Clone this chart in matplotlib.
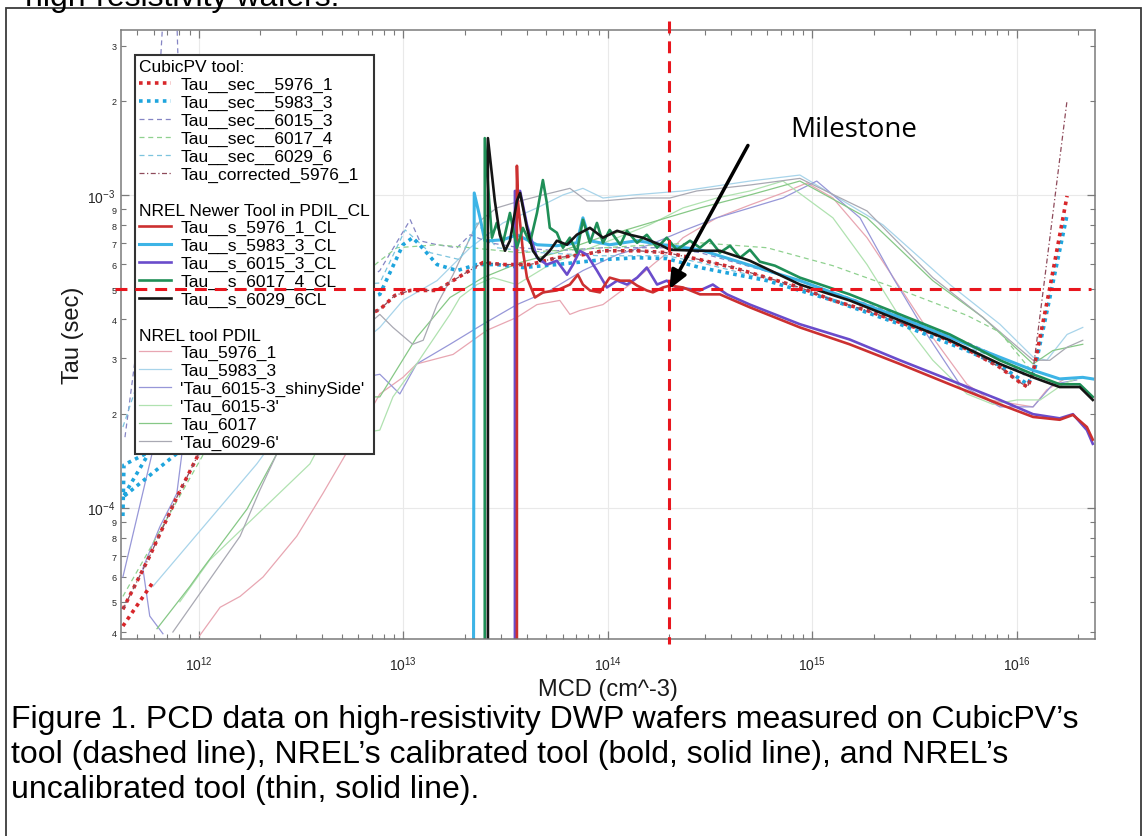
import numpy as np
import matplotlib
matplotlib.use("Agg")
import matplotlib.pyplot as plt
from matplotlib.lines import Line2D
from matplotlib.patches import Rectangle
from matplotlib.ticker import LogLocator, FuncFormatter, NullFormatter

plt.rcParams['font.family'] = ['Liberation Sans', 'DejaVu Sans']

# ---- CubicPV tool (dashed / dotted) ----
sec5976_mcd = [4.25e11, 5.75e11, 7.8e11, 1.01e12, 1.99e12, 3.12e12, 7.67e12, 9.08e12, 1.08e13, 1.46e13,
               1.95e13, 2.45e13, 3.07e13, 4.16e13, 5.63e13, 7.55e13, 9.46e13, 1.39e14, 1.94e14, 2.82e14,
               4.09e14, 6.0e14, 8.69e14, 1.26e15, 1.85e15, 2.68e15, 3.88e15, 5.70e15, 8.26e15, 1.03e16,
               1.13e16, 1.20e16, 1.45e16, 1.76e16]
sec5976_tau = [4.73e-5, 7.0e-5, 1.08e-4, 1.51e-4, 2.61e-4, 3.38e-4, 4.30e-4, 4.77e-4, 4.95e-4, 4.95e-4,
               5.56e-4, 6.08e-4, 5.99e-4, 5.99e-4, 6.30e-4, 6.44e-4, 6.63e-4, 6.63e-4, 6.54e-4, 6.21e-4,
               5.86e-4, 5.44e-4, 5.06e-4, 4.60e-4, 4.27e-4, 3.91e-4, 3.61e-4, 3.21e-4, 2.81e-4, 2.52e-4,
               2.43e-4, 2.71e-4, 5.06e-4, 9.93e-4]
sec5976_low_mcd = [4.25e11, 5.96e11]
sec5976_low_tau = [4.18e-5, 5.77e-5]

corr5976_mcd = [4.25e11, 5.75e11, 7.8e11, 1.01e12, 1.99e12, 3.12e12, 7.67e12, 9.08e12, 1.08e13, 1.46e13,
                1.95e13, 2.45e13, 3.07e13, 4.16e13, 5.63e13, 7.55e13, 9.46e13, 1.39e14, 1.94e14, 2.82e14,
                4.09e14, 6.0e14, 8.69e14, 1.26e15, 1.85e15, 2.68e15, 3.88e15, 5.70e15, 8.26e15, 1.03e16,
                1.13e16, 1.20e16, 1.45e16, 1.76e16]
corr5976_tau = [4.73e-5, 7.0e-5, 1.08e-4, 1.51e-4, 2.61e-4, 3.38e-4, 4.30e-4, 4.77e-4, 4.95e-4, 4.95e-4,
                5.56e-4, 6.08e-4, 5.99e-4, 5.99e-4, 6.30e-4, 6.44e-4, 6.63e-4, 6.63e-4, 6.54e-4, 6.21e-4,
                5.86e-4, 5.44e-4, 5.06e-4, 4.60e-4, 4.27e-4, 3.91e-4, 3.61e-4, 3.21e-4, 2.81e-4, 2.52e-4,
                2.43e-4, 2.75e-4, 7.3e-4, 2.01e-3]

sec5983_mcd = [4.25e11, 4.30e11, 5.75e11, 4.25e11, 7.80e11, 2.49e12, 7.67e12, 9.95e12, 1.11e13, 1.20e13,
               1.46e13, 1.83e13, 2.29e13, 2.86e13, 3.84e13, 5.63e13, 9.46e13, 1.39e14, 1.94e14, 2.82e14,
               6.0e14, 1.26e15, 2.68e15, 5.70e15, 8.26e15, 1.13e16, 1.22e16, 1.45e16, 1.76e16]
sec5983_tau = [9.4e-5, 1.37e-4, 1.51e-4, 1.08e-4, 1.49e-4, 3.77e-4, 4.81e-4, 6.93e-4, 7.30e-4, 6.93e-4,
               5.99e-4, 5.73e-4, 5.99e-4, 5.99e-4, 5.86e-4, 5.99e-4, 6.21e-4, 6.30e-4, 6.26e-4, 5.86e-4,
               5.32e-4, 4.60e-4, 3.86e-4, 3.18e-4, 2.85e-4, 2.48e-4, 2.75e-4, 4.70e-4, 8.64e-4]

sec6015_mcd = [4.35e11, 5.75e11, 6.67e11, 7.80e11, 8.55e11, 3.12e12, 7.67e12, 1.08e13, 1.20e13, 1.46e13,
               1.83e13, 2.12e13, 2.65e13, 3.72e13, 5.63e13, 9.46e13, 1.94e14, 2.82e14, 8.69e14, 2.68e15,
               5.70e15, 8.26e15, 1.09e16]
sec6015_tau = [1.68e-4, 6.78e-4, 3.66e-3, 3.66e-3, 4.70e-4, 3.77e-4, 5.73e-4, 8.33e-4, 7.14e-4, 6.93e-4,
               6.78e-4, 7.46e-4, 7.03e-4, 6.78e-4, 6.63e-4, 6.78e-4, 6.78e-4, 6.54e-4, 5.32e-4, 4.12e-4,
               3.38e-4, 3.03e-4, 2.65e-4]

sec6017_mcd = [4.25e11, 1.07e12, 3.12e12, 7.67e12, 9.29e12, 1.46e13, 2.12e13, 3.72e13, 6.52e13, 1.39e14,
               2.82e14, 6.0e14, 1.26e15, 2.68e15, 5.70e15, 8.26e15, 1.16e16]
sec6017_tau = [5.2e-5, 1.51e-4, 3.77e-4, 6.16e-4, 6.78e-4, 6.93e-4, 6.78e-4, 6.54e-4, 6.68e-4, 6.88e-4,
               7.03e-4, 6.78e-4, 5.94e-4, 4.98e-4, 4.12e-4, 3.64e-4, 2.77e-4]

sec6029_mcd = [4.25e11, 5.5e11, 9.04e11, 7.67e12, 1.02e13, 1.35e13, 1.89e13, 2.29e13, 2.86e13, 4.65e13,
               9.14e13, 1.94e14, 2.82e14, 8.69e14, 2.68e15, 5.70e15, 8.26e15, 1.09e16]
sec6029_tau = [1.81e-4, 3.0e-4, 4.70e-4, 5.23e-4, 7.73e-4, 6.54e-4, 6.21e-4, 8.14e-4, 6.78e-4, 6.54e-4,
               6.39e-4, 6.39e-4, 6.08e-4, 5.06e-4, 3.91e-4, 3.26e-4, 2.98e-4, 2.71e-4]

# ---- NREL newer tool, calibrated (bold solid) ----
cl5976_mcd = [3.59e13, 3.59e13, 3.63e13, 3.84e13, 4.02e13, 4.40e13, 4.81e13, 5.63e13, 6.52e13, 7.13e13,
              7.55e13, 8.17e13, 9.14e13, 1.02e14, 1.15e14, 1.28e14, 1.39e14, 1.55e14, 1.66e14, 1.86e14,
              2.01e14, 2.33e14, 2.82e14, 3.53e14, 4.95e14, 8.69e14, 1.52e15, 2.68e15, 4.70e15, 8.26e15,
              1.20e16, 1.62e16, 1.88e16, 2.20e16, 2.35e16]
cl5976_tau = [2.0e-5, 1.24e-3, 9.57e-4, 6.63e-4, 5.44e-4, 4.70e-4, 4.88e-4, 4.95e-4, 5.17e-4, 5.56e-4,
              5.17e-4, 4.95e-4, 4.88e-4, 5.44e-4, 5.32e-4, 5.32e-4, 5.13e-4, 4.95e-4, 4.88e-4, 5.06e-4,
              5.13e-4, 5.06e-4, 4.81e-4, 4.81e-4, 4.37e-4, 3.77e-4, 3.33e-4, 2.88e-4, 2.48e-4, 2.14e-4,
              1.95e-4, 1.91e-4, 1.98e-4, 1.81e-4, 1.65e-4]

cl5983_mcd = [2.20e13, 2.22e13, 2.37e13, 2.50e13, 2.65e13, 3.07e13, 3.59e13, 4.50e13, 5.63e13, 7.05e13,
              7.55e13, 8.17e13, 1.02e14, 1.39e14, 1.86e14, 2.82e14, 8.69e14, 2.68e15, 5.70e15, 1.20e16,
              1.62e16, 2.10e16, 2.35e16]
cl5983_tau = [2.0e-5, 1.015e-3, 8.45e-4, 7.14e-4, 7.14e-4, 7.19e-4, 7.46e-4, 6.93e-4, 6.88e-4, 7.03e-4,
              8.45e-4, 7.14e-4, 6.93e-4, 7.14e-4, 6.93e-4, 6.68e-4, 5.32e-4, 4.06e-4, 3.33e-4, 2.75e-4,
              2.58e-4, 2.61e-4, 2.58e-4]

cl6015_mcd = [3.51e13, 3.51e13, 3.72e13, 4.02e13, 4.50e13, 5.03e13, 5.63e13, 6.31e13, 6.75e13, 7.29e13,
              7.89e13, 8.84e13, 9.89e13, 1.11e14, 1.24e14, 1.39e14, 1.55e14, 1.74e14, 1.94e14, 2.17e14,
              2.82e14, 3.26e14, 3.82e14, 4.95e14, 8.69e14, 1.52e15, 2.68e15, 4.70e15, 8.26e15, 1.20e16,
              1.62e16, 1.88e16, 2.20e16, 2.35e16]
cl6015_tau = [2.0e-5, 1.03e-3, 1.03e-3, 8.03e-4, 6.30e-4, 5.99e-4, 6.16e-4, 5.56e-4, 5.99e-4, 6.63e-4,
              6.44e-4, 5.73e-4, 5.06e-4, 5.32e-4, 5.17e-4, 5.44e-4, 5.86e-4, 5.17e-4, 5.32e-4, 5.06e-4,
              4.95e-4, 5.17e-4, 4.81e-4, 4.46e-4, 3.86e-4, 3.45e-4, 2.96e-4, 2.56e-4, 2.21e-4, 1.99e-4,
              1.93e-4, 1.99e-4, 1.77e-4, 1.60e-4]

cl6017_mcd = [2.50e13, 2.50e13, 2.62e13, 2.71e13, 2.86e13, 3.07e13, 3.32e13, 3.59e13, 3.84e13, 4.16e13,
              4.50e13, 4.81e13, 5.03e13, 5.20e13, 5.63e13, 6.03e13, 6.52e13, 7.05e13, 7.55e13, 8.17e13,
              8.84e13, 9.46e13, 1.02e14, 1.15e14, 1.24e14, 1.39e14, 1.55e14, 1.74e14, 1.94e14, 2.17e14,
              2.52e14, 2.82e14, 3.15e14, 3.53e14, 3.96e14, 4.43e14, 4.95e14, 5.53e14, 6.56e14, 8.69e14,
              1.52e15, 2.68e15, 4.70e15, 8.26e15, 1.20e16, 1.62e16, 2.03e16, 2.35e16]
cl6017_tau = [2.0e-5, 1.52e-3, 9.78e-4, 7.30e-4, 8.14e-4, 7.03e-4, 8.76e-4, 6.78e-4, 7.85e-4, 7.03e-4,
              8.76e-4, 1.116e-3, 9.43e-4, 7.85e-4, 7.57e-4, 6.78e-4, 7.30e-4, 6.54e-4, 8.33e-4, 7.03e-4,
              8.14e-4, 7.03e-4, 7.73e-4, 6.93e-4, 7.68e-4, 7.03e-4, 7.46e-4, 6.78e-4, 7.30e-4, 6.68e-4,
              7.14e-4, 6.78e-4, 7.19e-4, 6.54e-4, 6.88e-4, 6.30e-4, 6.68e-4, 6.12e-4, 5.94e-4, 5.44e-4,
              4.81e-4, 4.15e-4, 3.58e-4, 2.96e-4, 2.67e-4, 2.48e-4, 2.48e-4, 2.26e-4]

cl6029_mcd = [2.59e13, 2.59e13, 2.80e13, 2.96e13, 3.14e13, 3.32e13, 3.59e13, 3.72e13, 4.02e13, 4.30e13,
              4.65e13, 5.20e13, 5.63e13, 6.31e13, 7.05e13, 8.17e13, 9.46e13, 1.11e14, 1.28e14, 1.48e14,
              1.80e14, 2.01e14, 2.82e14, 3.53e14, 4.95e14, 8.69e14, 1.52e15, 2.68e15, 4.70e15, 8.26e15,
              1.20e16, 1.62e16, 2.03e16, 2.35e16]
cl6029_tau = [2.0e-5, 1.52e-3, 9.57e-4, 7.46e-4, 6.63e-4, 7.14e-4, 9.57e-4, 1.015e-3, 7.85e-4, 6.63e-4,
              6.16e-4, 6.63e-4, 7.14e-4, 6.93e-4, 7.46e-4, 7.85e-4, 7.30e-4, 7.68e-4, 7.46e-4, 7.30e-4,
              6.93e-4, 6.68e-4, 6.63e-4, 6.63e-4, 6.16e-4, 5.17e-4, 4.60e-4, 3.97e-4, 3.43e-4, 2.88e-4,
              2.61e-4, 2.43e-4, 2.43e-4, 2.21e-4]

# ---- NREL tool PDIL, uncalibrated (thin solid) ----
pd5976_mcd = [1.01e12, 1.27e12, 1.59e12, 2.06e12, 3.01e12, 4.04e12, 5.47e12, 7.67e12, 9.95e12, 1.16e13,
              1.75e13, 2.56e13, 3.59e13, 4.50e13, 5.82e13, 6.52e13, 7.29e13, 9.46e13, 1.28e14, 1.66e14,
              2.01e14, 2.33e14, 3.41e14, 4.95e14, 7.18e14, 9.40e14, 1.26e15, 1.85e15, 2.68e15, 3.88e15,
              5.70e15, 7.38e15, 1.0e16, 1.20e16, 1.40e16, 1.68e16]
pd5976_tau = [3.9e-5, 4.8e-5, 5.2e-5, 6.0e-5, 8.1e-5, 1.11e-4, 1.56e-4, 2.31e-4, 2.61e-4, 2.88e-4,
              3.09e-4, 3.69e-4, 4.06e-4, 4.46e-4, 4.60e-4, 4.15e-4, 4.27e-4, 4.46e-4, 5.17e-4, 5.99e-4,
              6.63e-4, 7.30e-4, 8.45e-4, 9.29e-4, 1.015e-3, 1.092e-3, 9.78e-4, 7.30e-4, 5.06e-4, 3.50e-4,
              2.48e-4, 2.21e-4, 2.14e-4, 2.10e-4, 2.38e-4, 2.56e-4]

pd5983_mcd = [5.96e11, 1.92e12, 3.91e12, 7.67e12, 9.95e12, 1.46e13, 2.12e13, 3.07e13, 4.50e13, 6.03e13,
              7.55e13, 9.46e13, 1.32e14, 2.33e14, 4.95e14, 8.69e14, 2.21e15, 4.70e15, 8.26e15, 1.20e16,
              1.40e16, 1.76e16, 2.10e16]
pd5983_tau = [5.6e-5, 1.38e-4, 2.61e-4, 3.77e-4, 4.60e-4, 5.32e-4, 6.78e-4, 8.14e-4, 9.09e-4, 1.0e-3,
              1.05e-3, 9.78e-4, 1.0e-3, 1.03e-3, 1.108e-3, 1.158e-3, 8.03e-4, 5.17e-4, 3.86e-4, 3.03e-4,
              2.96e-4, 3.58e-4, 3.77e-4]

shiny_mcd = [6.67e11, 5.75e11, 5.32e11, 6.45e11, 7.80e11, 8.26e11, 1.99e12, 7.67e12, 9.61e12, 1.16e13,
             1.69e13, 2.45e13, 3.59e13, 5.20e13, 7.55e13, 1.11e14, 1.60e14, 2.33e14, 3.41e14, 4.95e14,
             7.18e14, 1.05e15, 1.71e15, 2.48e15, 3.63e15, 5.26e15, 8.26e15, 1.20e16, 1.50e16, 1.96e16]
shiny_tau = [3.95e-5, 4.5e-5, 6.4e-5, 8.7e-5, 1.11e-4, 1.49e-4, 2.26e-4, 2.67e-4, 2.31e-4, 2.88e-4,
             3.33e-4, 3.86e-4, 4.46e-4, 4.95e-4, 5.73e-4, 6.44e-4, 6.93e-4, 7.68e-4, 8.45e-4, 9.09e-4,
             9.78e-4, 1.108e-3, 8.45e-4, 5.44e-4, 3.58e-4, 2.48e-4, 2.10e-4, 2.10e-4, 2.48e-4, 2.56e-4]
shiny_branch_mcd = [4.25e11, 5.96e11, 6.8e11]
shiny_branch_tau = [6.0e-5, 1.53e-4, 1.95e-4]

pd6015_mcd = [8.07e11, 1.13e12, 3.49e12, 4.04e12, 7.67e12, 8.89e12, 1.16e13, 1.69e13, 1.89e13, 2.29e13,
              2.74e13, 3.59e13, 5.20e13, 7.55e13, 1.11e14, 1.60e14, 2.33e14, 3.41e14, 4.95e14, 7.18e14,
              1.26e15, 1.85e15, 2.68e15, 3.88e15, 5.70e15, 7.64e15, 1.0e16, 1.30e16, 1.68e16, 2.03e16]
pd6015_tau = [5.0e-5, 6.8e-5, 1.38e-4, 1.65e-4, 1.77e-4, 2.26e-4, 2.88e-4, 4.15e-4, 4.70e-4, 5.17e-4,
              5.44e-4, 5.17e-4, 5.99e-4, 6.63e-4, 7.30e-4, 8.03e-4, 9.09e-4, 9.78e-4, 1.03e-3, 1.108e-3,
              8.45e-4, 5.99e-4, 4.06e-4, 2.96e-4, 2.31e-4, 2.14e-4, 2.21e-4, 2.21e-4, 2.48e-4, 2.61e-4]

pd6017_mcd = [6.24e11, 9.04e11, 1.01e12, 1.72e12, 2.41e12, 4.37e12, 7.67e12, 1.16e13, 1.69e13, 2.45e13,
              3.72e13, 5.63e13, 9.14e13, 1.60e14, 2.82e14, 4.95e14, 8.69e14, 1.85e15, 3.88e15, 6.82e15,
              1.20e16, 1.50e16, 2.10e16]
pd6017_tau = [4.1e-5, 5.6e-5, 6.2e-5, 9.9e-5, 1.49e-4, 2.26e-4, 2.26e-4, 3.50e-4, 4.70e-4, 5.44e-4,
              6.08e-4, 6.54e-4, 7.30e-4, 8.14e-4, 9.09e-4, 1.0e-3, 1.108e-3, 8.45e-4, 5.32e-4, 4.06e-4,
              2.88e-4, 3.18e-4, 3.33e-4]

pd6029_mcd = [7.46e11, 1.59e12, 1.99e12, 2.41e12, 4.37e12, 7.67e12, 8.89e12, 1.11e13, 1.25e13, 1.46e13,
              1.75e13, 2.12e13, 2.37e13, 2.86e13, 3.72e13, 4.81e13, 6.52e13, 7.89e13, 9.46e13, 1.39e14,
              2.01e14, 2.72e14, 4.95e14, 8.69e14, 1.85e15, 3.88e15, 6.82e15, 1.20e16, 1.45e16, 1.76e16,
              2.10e16]
pd6029_tau = [4.0e-5, 8.1e-5, 1.14e-4, 1.49e-4, 3.03e-4, 4.15e-4, 3.77e-4, 3.33e-4, 3.43e-4, 4.46e-4,
              5.56e-4, 7.30e-4, 8.27e-4, 9.09e-4, 9.57e-4, 1.0e-3, 1.05e-3, 9.57e-4, 9.57e-4, 9.78e-4,
              9.78e-4, 1.03e-3, 1.076e-3, 1.13e-3, 8.89e-4, 5.44e-4, 4.06e-4, 2.96e-4, 2.96e-4, 3.26e-4,
              3.43e-4]

# milestone marker
milestone_mcd = 2e14
milestone_tau = 5e-4

caption_lines = ["Figure 1. PCD data on high-resistivity DWP wafers measured on CubicPV\u2019s",
                 "tool (dashed line), NREL\u2019s calibrated tool (bold, solid line), and NREL\u2019s",
                 "uncalibrated tool (thin, solid line)."]

W, H = 1145, 837
fig = plt.figure(figsize=(W / 100, H / 100), dpi=100)
ax = fig.add_axes([121 / W, 1 - 640 / H, (1095 - 121) / W, (640 - 31) / H])

thin = 0.9
# thin NREL PDIL lines first
l_pd5976, = ax.plot(pd5976_mcd, pd5976_tau, color='#e8a6b2', lw=thin)
l_pd5983, = ax.plot(pd5983_mcd, pd5983_tau, color='#a8d4ea', lw=thin)
l_shiny, = ax.plot(shiny_mcd, shiny_tau, color='#9797d8', lw=thin)
ax.plot(shiny_branch_mcd, shiny_branch_tau, color='#9797d8', lw=thin)
l_pd6015, = ax.plot(pd6015_mcd, pd6015_tau, color='#b0e2b0', lw=thin)
l_pd6017, = ax.plot(pd6017_mcd, pd6017_tau, color='#86c886', lw=thin)
l_pd6029, = ax.plot(pd6029_mcd, pd6029_tau, color='#a9a9b3', lw=thin)

# CubicPV
l_s6015, = ax.plot(sec6015_mcd, sec6015_tau, color='#8585c4', lw=thin, ls=(0, (4, 3)))
l_s6017, = ax.plot(sec6017_mcd, sec6017_tau, color='#8fd18f', lw=thin, ls=(0, (4, 3)))
l_s6029, = ax.plot(sec6029_mcd, sec6029_tau, color='#7cc4de', lw=thin, ls=(0, (4, 3)))
l_s5983, = ax.plot(sec5983_mcd, sec5983_tau, color='#1fa5dd', lw=2.6, ls=(0, (1, 1.2)))
l_s5976, = ax.plot(sec5976_mcd, sec5976_tau, color='#d8262a', lw=2.6, ls=(0, (1, 1.2)))
ax.plot(sec5976_low_mcd, sec5976_low_tau, color='#d8262a', lw=2.6, ls=(0, (1, 1.2)))
l_corr, = ax.plot(corr5976_mcd, corr5976_tau, color='#8e4a5a', lw=thin, ls=(0, (4, 2, 1, 2)))

# NREL calibrated
bold = 1.9
l_c5983, = ax.plot(cl5983_mcd, cl5983_tau, color='#3db4e6', lw=bold + 0.3)
l_c6015, = ax.plot(cl6015_mcd, cl6015_tau, color='#6a4ccb', lw=bold)
l_c5976, = ax.plot(cl5976_mcd, cl5976_tau, color='#cc3030', lw=bold)
l_c6017, = ax.plot(cl6017_mcd, cl6017_tau, color='#1f8f57', lw=bold)
l_c6029, = ax.plot(cl6029_mcd, cl6029_tau, color='#151515', lw=bold)

ax.set_xscale('log')
ax.set_yscale('log')
ax.set_xlim(4.16e11, 2.41e16)
ax.set_ylim(3.8e-5, 3.37e-3)

ax.xaxis.set_major_locator(LogLocator(base=10, numticks=20))
ax.xaxis.set_minor_locator(LogLocator(base=10, subs=np.arange(2, 10), numticks=20))
ax.xaxis.set_minor_formatter(NullFormatter())
ax.yaxis.set_major_locator(LogLocator(base=10, numticks=20))
ax.yaxis.set_minor_locator(LogLocator(base=10, subs=np.arange(2, 10), numticks=20))
ax.yaxis.set_minor_formatter(FuncFormatter(
    lambda v, pos: '%d' % round(v / 10 ** np.floor(np.log10(v) + 1e-9))))

ax.tick_params(which='both', direction='in', top=True, right=True, color='#7a7a7a')
ax.tick_params(which='major', length=5.5, width=0.9, labelsize=10, labelcolor='#262626', pad=4)
ax.tick_params(which='minor', length=3.5, width=0.8)
ax.tick_params(axis='y', which='minor', labelsize=6.5, labelcolor='#262626', pad=3)
ax.tick_params(axis='x', which='major', pad=11)
for sp in ax.spines.values():
    sp.set_color('#7a7a7a')
    sp.set_linewidth(1.1)
ax.grid(True, which='major', color='#e9e9e9', lw=0.8)
ax.set_axisbelow(True)

ax.set_xlabel('MCD (cm^-3)', fontsize=17, color='#1a1a1a')
ax.set_ylabel('Tau (sec)', fontsize=17, color='#1a1a1a')
ax.xaxis.set_label_coords(0.5, -0.064)
ax.yaxis.set_label_coords(-0.038, 0.5)

# legend with section titles
blank = Line2D([], [], linestyle='none')
section_titles = ['CubicPV tool:', 'NREL Newer Tool in PDIL_CL', 'NREL tool PDIL']
leg_handles = [blank, l_s5976, l_s5983, l_s6015, l_s6017, l_s6029, l_corr, blank,
               blank, l_c5976, l_c5983, l_c6015, l_c6017, l_c6029, blank,
               blank, l_pd5976, l_pd5983, l_shiny, l_pd6015, l_pd6017, l_pd6029]
leg_labels = ['CubicPV tool:', 'Tau__sec__5976_1', 'Tau__sec__5983_3', 'Tau__sec__6015_3',
              'Tau__sec__6017_4', 'Tau__sec__6029_6', 'Tau_corrected_5976_1', ' ',
              'NREL Newer Tool in PDIL_CL', 'Tau__s_5976_1_CL', 'Tau__s_5983_3_CL',
              'Tau__s_6015_3_CL', 'Tau__s_6017_4_CL', 'Tau__s_6029_6CL', ' ',
              'NREL tool PDIL', 'Tau_5976_1', 'Tau_5983_3', "'Tau_6015-3_shinySide'",
              "'Tau_6015-3'", 'Tau_6017', "'Tau_6029-6'"]
leg = ax.legend(leg_handles, leg_labels, loc='upper left',
                bbox_to_anchor=((135 - 121) / 974, (640 - 56) / 609), borderaxespad=0,
                fontsize=12.5, frameon=True, fancybox=False, framealpha=1,
                edgecolor='#333333', borderpad=0.25, labelspacing=0.15,
                handlelength=1.8, handletextpad=0.55)
leg.get_frame().set_linewidth(1.5)
rows = leg._legend_handle_box.get_children()[0].get_children()
for row, lab in zip(rows, leg_labels):
    if lab in section_titles:
        row.get_children()[0].width = 0
        row.sep = 0

# milestone overlay
red = '#e8161e'
ax.plot([3.9e11, 2.3e16], [milestone_tau, milestone_tau], color=red, lw=2.2,
        dashes=(3.9, 2.6), clip_on=False, zorder=6)
ax.plot([milestone_mcd, milestone_mcd], [3.6e-3, 3.66e-5], color=red, lw=2.2,
        dashes=(3.9, 2.6), clip_on=False, zorder=6)
ax.annotate('', xy=(milestone_mcd, milestone_tau), xytext=(4.84e14, 1.44e-3),
            arrowprops=dict(arrowstyle='-|>,head_length=0.8,head_width=0.35', lw=2.5,
                            color='black', shrinkA=0, shrinkB=0, mutation_scale=14),
            annotation_clip=False, zorder=7)
fig.text(790 / W, 1 - 130 / H, 'Milestone', fontsize=20, family='Open Sans',
         ha='left', va='center', color='black')

# caption and page frame
for i, line in enumerate(caption_lines):
    fig.text(11 / W, 1 - (720 + 35 * i) / H, line, fontsize=23, ha='left', va='center',
             color='black')
fig.text(25 / W, 1 - 6 / H, 'high-resistivity wafers.', fontsize=23, ha='left',
         va='baseline', color='black')
fig.add_artist(Rectangle((6 / W, -0.1), (1141 - 6) / W, (837 - 9) / H + 0.1,
                         transform=fig.transFigure, fill=False, ec='#3a3a3a', lw=1.3))

fig.savefig('out.png', dpi=100)
